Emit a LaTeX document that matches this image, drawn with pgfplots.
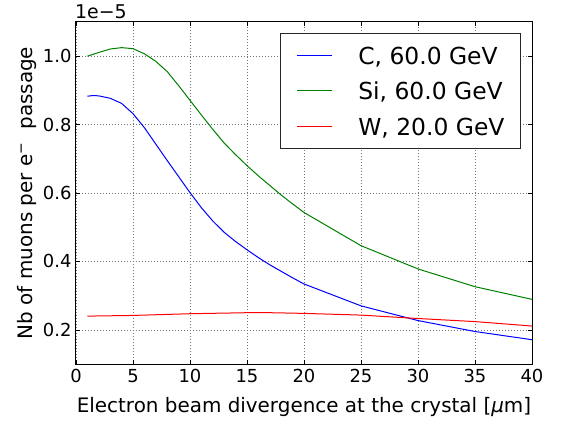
\documentclass[border=0pt]{standalone}
\usepackage{fontspec}
\setmainfont{DejaVu Sans}
\usepackage{pgfplots}
\pgfplotsset{compat=1.18}
\definecolor{mplblue}{rgb}{0,0,1}
\definecolor{mplgreen}{rgb}{0,0.5,0}
\definecolor{mplred}{rgb}{1,0,0}
\begin{document}
\begin{tikzpicture}
\begin{axis}[
  scale only axis, width=456bp, height=342bp,
  xmin=0, xmax=40, ymin=0.1, ymax=1.1,
  xtick={0,5,...,40}, ytick={0.2,0.4,0.6,0.8,1.0},
  yticklabel style={/pgf/number format/fixed, /pgf/number format/fixed zerofill, /pgf/number format/precision=1, xshift=-1bp},
  /pgf/number format/assume math mode=true,
  tick label style={font=\fontsize{18}{21}\selectfont, black},
  xticklabel style={yshift=-2bp},
  tick align=inside, major tick length=4bp,
  tick style={black, line width=0.6bp},
  grid=major,
  grid style={black!55, line width=0.5bp, dash pattern=on 1bp off 2bp},
  axis line style={line width=1bp, black},
  label style={font=\fontsize{20}{24}\selectfont},
  xlabel={Electron beam divergence at the crystal [{\itshape μ}m]},
  ylabel={Nb of muons per e\textsuperscript{−}\ \ passage},
  xlabel style={at={([yshift=-48bp]axis description cs:0.5,0)}, anchor=base},
  ylabel style={at={([xshift=-43bp]axis description cs:0,0.5)}, anchor=base},
  legend style={at={([xshift=-11bp,yshift=-11bp]rel axis cs:1,1)}, anchor=north east,
    draw=black!85, line width=1bp, inner xsep=16bp, inner ysep=10.5bp,
    column sep=26bp, row sep=12.5bp,
    font=\fontsize{23.5}{28}\selectfont,
    nodes={inner sep=0pt, text height=20.3bp, text depth=2.7bp}},
  legend cell align=left,
  legend image code/.code={\draw[#1] (0bp,0bp) -- (35bp,0bp);},
]
\addplot[mplblue, line width=1bp] coordinates {
(1,0.883) (1.5,0.885) (2,0.884) (3,0.877) (4,0.862) (5,0.832) (6,0.791) (7,0.743)
(8,0.695) (9,0.648) (10,0.601) (11,0.557) (12,0.518) (13,0.485) (14,0.458)
(15,0.434) (16,0.411) (17,0.390) (18,0.371) (19,0.352) (20,0.334) (25,0.270)
(30,0.227) (35,0.195) (40,0.171)};
\addlegendentry{C, 60.0 GeV}
\addplot[mplgreen, line width=1bp] coordinates {
(1,1.000) (2,1.011) (3,1.021) (4,1.025) (5,1.022) (6,1.007) (7,0.985) (8,0.955)
(9,0.914) (10,0.871) (11,0.828) (12,0.786) (13,0.746) (14,0.712) (15,0.680)
(16,0.650) (17,0.622) (18,0.594) (19,0.568) (20,0.543) (25,0.446) (30,0.378)
(35,0.326) (40,0.289)};
\addlegendentry{Si, 60.0 GeV}
\addplot[mplred, line width=1bp] coordinates {
(1,0.240) (5,0.242) (10,0.247) (15,0.250) (17,0.250) (20,0.248) (25,0.243)
(30,0.233) (35,0.224) (40,0.211)};
\addlegendentry{W, 20.0 GeV}
\end{axis}
\node[anchor=base west, font=\fontsize{19}{22}\selectfont, inner sep=0pt]
  at ([xshift=-1bp,yshift=3.7bp]current axis.north west) {1e−5};
\pgfresetboundingbox
\path ([shift={(-76bp,-60bp)}]current axis.south west) rectangle ([shift={(30bp,22bp)}]current axis.north east);
\end{tikzpicture}
\end{document}
